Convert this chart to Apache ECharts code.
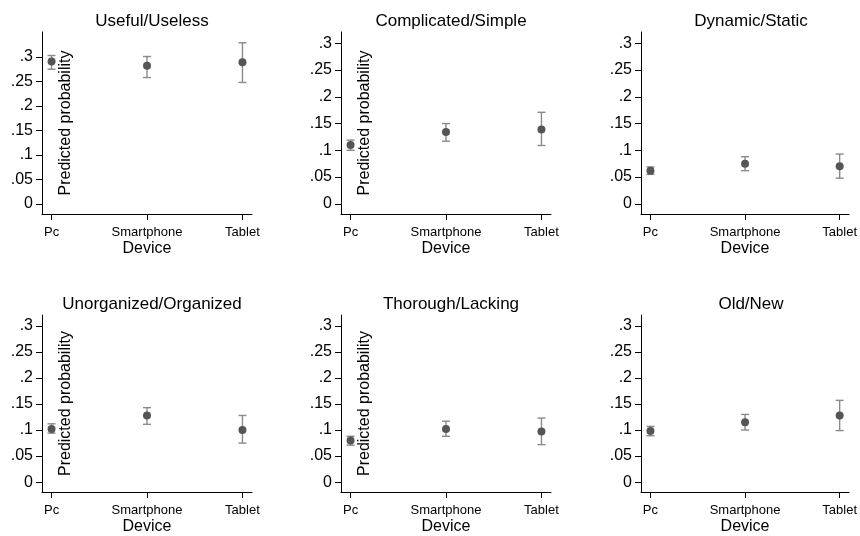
<!DOCTYPE html>
<html>
<head>
<meta charset="utf-8">
<script src="https://cdn.jsdelivr.net/npm/echarts@6/dist/echarts.min.js"></script>
<style>
  html,body{margin:0;padding:0;background:#fff;}
  #chart{width:860px;height:536px;}
</style>
</head>
<body>
<div id="chart"></div>
<script>
// 六个子图：各设备的预测概率及置信区间
let titles = ['Useful/Useless','Complicated/Simple','Dynamic/Static','Unorganized/Organized','Thorough/Lacking','Old/New']
let devices = ['Pc','Smartphone','Tablet']
let margins = [[0.291,0.282,0.289],[0.110,0.134,0.139],[0.062,0.075,0.070],[0.102,0.128,0.100],[0.080,0.102,0.097],[0.098,0.115,0.128]]
let ciLow   = [[0.275,0.258,0.248],[0.100,0.117,0.109],[0.055,0.062,0.048],[0.094,0.111,0.075],[0.071,0.088,0.072],[0.089,0.100,0.099]]
let ciHigh  = [[0.303,0.301,0.329],[0.119,0.150,0.171],[0.069,0.088,0.093],[0.112,0.143,0.128],[0.088,0.117,0.123],[0.107,0.130,0.157]]
let yTicks = [0,0.05,0.1,0.15,0.2,0.25,0.3]
let yTop = [0.351,0.321,0.321,0.321,0.321,0.321]
let yBottom = [-0.0205,-0.019,-0.019,-0.019,-0.019,-0.019]
let showYName = [true,true,false,true,true,false]

let colLeft = [42,341,641]
let rowTop = [32,315]
let font = 'Liberation Sans, Arial, sans-serif'

function fmtY(v){ return v === 0 ? '0' : String(+v.toFixed(2)).replace(/^0/,'') }

let option = {
  animation:false,
  textStyle:{fontFamily:font},
  title:[], grid:[], xAxis:[], yAxis:[], series:[]
}

titles.map((t,i)=>{
  let left = colLeft[i%3], top = rowTop[Math.floor(i/3)]
  option.title.push({text:t,left:left+105,top:top-24,textAlign:'center',
    textStyle:{fontSize:17,fontWeight:'normal',color:'#000',fontFamily:font}})
  option.grid.push({left:left,top:top,width:210,height:182})
  option.xAxis.push({
    type:'value',gridIndex:i,min:0.9,max:3.1,
    name:'Device',nameLocation:'middle',nameGap:35,
    nameTextStyle:{fontSize:16,color:'#000',verticalAlign:'middle',fontFamily:font},
    axisLine:{onZero:false,lineStyle:{color:'#000',width:1}},
    axisTick:{customValues:[1,2,3],length:6,lineStyle:{color:'#000'}},
    axisLabel:{customValues:[1,2,3],formatter:v=>devices[Math.round(v)-1],fontSize:13,color:'#000',margin:12,fontFamily:font},
    splitLine:{show:false}
  })
  option.yAxis.push({
    type:'value',gridIndex:i,min:yBottom[i],max:yTop[i],
    name:showYName[i]?'Predicted probability':'',nameLocation:'middle',nameGap:-24,
    nameTextStyle:{fontSize:16,color:'#000',verticalAlign:'middle',fontFamily:font},
    axisLine:{show:true,lineStyle:{color:'#000',width:1}},
    axisTick:{show:true,customValues:yTicks,length:6,lineStyle:{color:'#000'}},
    axisLabel:{customValues:yTicks,formatter:fmtY,fontSize:16,color:'#000',margin:9,fontFamily:font},
    splitLine:{show:false}
  })
  option.series.push({
    type:'custom',xAxisIndex:i,yAxisIndex:i,z:2,
    data:devices.map((d,j)=>[j+1,ciLow[i][j],ciHigh[i][j]]),
    renderItem:function(params,api){
      let lo = api.coord([api.value(0),api.value(1)])
      let hi = api.coord([api.value(0),api.value(2)])
      let st = {stroke:'#8a8a8a',lineWidth:1.4}
      return {type:'group',children:[
        {type:'line',shape:{x1:lo[0],y1:lo[1],x2:hi[0],y2:hi[1]},style:st},
        {type:'line',shape:{x1:lo[0]-4,y1:lo[1],x2:lo[0]+4,y2:lo[1]},style:st},
        {type:'line',shape:{x1:hi[0]-4,y1:hi[1],x2:hi[0]+4,y2:hi[1]},style:st}
      ]}
    }
  })
  option.series.push({
    type:'scatter',xAxisIndex:i,yAxisIndex:i,z:3,symbol:'circle',symbolSize:8,
    itemStyle:{color:'#555555',opacity:1},
    data:devices.map((d,j)=>[j+1,margins[i][j]])
  })
})

let myChart = echarts.init(document.getElementById('chart'))
myChart.setOption(option)
</script>
</body>
</html>
